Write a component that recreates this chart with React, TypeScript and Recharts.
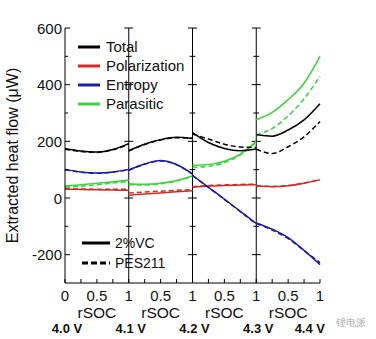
import React from 'react'
import { LineChart, Line, XAxis, YAxis, ReferenceLine } from 'recharts'

// rSOC sample points inside each voltage window
const rsoc = [0, 0.25, 0.5, 0.75, 1]
const voltages = ['4.0 V', '4.1 V', '4.2 V', '4.3 V', '4.4 V']

// one inner array per voltage window (4.0-4.1, 4.1-4.2, 4.2-4.3, 4.3-4.4)
const totalVC = [
  [175, 166, 162, 171, 192],
  [168, 190, 206, 214, 210],
  [231, 196, 175, 167, 173],
  [223, 218, 240, 276, 333],
]
const totalPES = [
  [172, 164, 161, 170, 190],
  [166, 189, 205, 213, 212],
  [226, 208, 190, 180, 178],
  [172, 157, 181, 216, 270],
]
const polVC = [
  [31, 30, 29, 28, 27],
  [10, 14, 18, 22, 26],
  [38, 42, 44, 46, 47],
  [42, 40, 43, 52, 64],
]
const polPES = [
  [32, 32, 31, 31, 31],
  [18, 21, 24, 27, 30],
  [40, 44, 46, 48, 49],
  [43, 41, 44, 53, 65],
]
const entVC = [
  [101, 92, 88, 92, 101],
  [99, 120, 132, 118, 85],
  [80, 38, -4, -47, -90],
  [-88, -110, -140, -185, -235],
]
const entPES = [
  [100, 91, 87, 91, 100],
  [98, 119, 131, 117, 84],
  [79, 37, -5, -48, -92],
  [-90, -113, -143, -186, -228],
]
const parVC = [
  [42, 47, 52, 57, 63],
  [50, 48, 52, 62, 78],
  [115, 118, 130, 155, 200],
  [276, 302, 347, 405, 500],
]
const parPES = [
  [38, 42, 47, 53, 58],
  [47, 46, 50, 60, 76],
  [108, 112, 125, 152, 197],
  [223, 245, 290, 350, 430],
]

const yTicks = [-200, -100, 0, 100, 200, 300, 400, 500, 600]
const xTicks = [0, 0.25, 0.5, 0.75, 1, 1.25, 1.5, 1.75, 2, 2.25, 2.5, 2.75, 3, 3.25, 3.5, 3.75, 4]
const dividers = [1, 2, 3]

const FONT = '"Liberation Sans", Arial, Helvetica, sans-serif'
const BLACK = '#000'
const RED = '#d22a26'
const BLUE = '#1c1ca8'
const GREEN = '#3fd43f'

// build rows, with an empty row between windows so the lines break
const data: any[] = []
totalVC.forEach((_, p) => {
  rsoc.forEach((r, i) => {
    data.push({
      x: p + r,
      totalVC: totalVC[p][i],
      totalPES: totalPES[p][i],
      polVC: polVC[p][i],
      polPES: polPES[p][i],
      entVC: entVC[p][i],
      entPES: entPES[p][i],
      parVC: parVC[p][i],
      parPES: parPES[p][i],
    })
  })
  if (p < totalVC.length - 1) data.push({ x: p + 1 })
})

const YTickLeft = (props: any) => {
  const { x, y, payload } = props
  const major = payload.value % 200 === 0
  return (
    <g>
      <line x1={x} x2={x + (major ? 5 : 3)} y1={y} y2={y} stroke={BLACK} />
      {major && (
        <text x={x - 3} y={y} textAnchor="end" dominantBaseline="central" fontSize={15} fontFamily={FONT} fill="#111">
          {payload.value}
        </text>
      )}
    </g>
  )
}

const YTickRight = (props: any) => {
  const { x, y, payload } = props
  const major = payload.value % 200 === 0
  return <line x1={x} x2={x - (major ? 5 : 3)} y1={y} y2={y} stroke={BLACK} />
}

const XTickTop = (props: any) => {
  const { x, y } = props
  return <line x1={x} x2={x} y1={y} y2={y + 4} stroke={BLACK} />
}

const XTickBottom = (props: any) => {
  const { x, y, payload } = props
  const v: number = payload.value
  const frac = v % 1
  const showNum = frac === 0 || frac === 0.5
  const label = v === 0 ? '0' : frac === 0 ? '1' : '0.5'
  const vi = Math.round(v)
  const last = vi === voltages.length - 1
  return (
    <g>
      <line x1={x} x2={x} y1={y} y2={y - 4} stroke={BLACK} />
      {showNum && (
        <text x={x} y={y + 12} textAnchor="middle" dominantBaseline="central" fontSize={15} fontFamily={FONT} fill="#111">
          {label}
        </text>
      )}
      {frac === 0.5 && (
        <text x={x} y={y + 29} textAnchor="middle" dominantBaseline="central" fontSize={15.5} fontFamily={FONT} fill="#111">
          rSOC
        </text>
      )}
      {frac === 0 && (
        <text
          x={last ? x + 5 : x + 2}
          y={y + 45}
          textAnchor={last ? 'end' : 'middle'}
          dominantBaseline="central"
          fontSize={13}
          fontWeight="bold"
          fontFamily={FONT}
          fill="#111"
        >
          {voltages[vi]}
        </text>
      )}
    </g>
  )
}

const legendMain = [
  { name: 'Total', color: BLACK },
  { name: 'Polarization', color: RED },
  { name: 'Entropy', color: BLUE },
  { name: 'Parasitic', color: GREEN },
]
const legendStyle = [
  { name: '2%VC', dash: '' },
  { name: 'PES211', dash: '6 3' },
]

const App: React.FC = () => {
  return (
    <div style={{ position: 'absolute', left: 0, top: 0, width: 376, height: 339, background: '#fff', fontFamily: FONT }}>
      <LineChart width={376} height={339} data={data} margin={{ top: 28, right: 56, bottom: 0, left: 0 }}>
        <XAxis
          dataKey="x"
          type="number"
          domain={[0, 4]}
          ticks={xTicks}
          interval={0}
          height={56}
          tickSize={0}
          tickMargin={0}
          tickLine={false}
          axisLine={{ stroke: BLACK }}
          tick={<XTickBottom />}
        />
        <XAxis
          xAxisId="top"
          dataKey="x"
          type="number"
          orientation="top"
          domain={[0, 4]}
          ticks={xTicks}
          interval={0}
          height={0}
          tickSize={0}
          tickMargin={0}
          tickLine={false}
          axisLine={{ stroke: BLACK }}
          tick={<XTickTop />}
        />
        <YAxis
          type="number"
          domain={[-300, 600]}
          ticks={yTicks}
          interval={0}
          width={65}
          tickSize={0}
          tickMargin={0}
          tickLine={false}
          axisLine={{ stroke: BLACK }}
          tick={<YTickLeft />}
          label={{
            value: 'Extracted heat flow (μW)',
            angle: -90,
            position: 'insideLeft',
            offset: 12,
            style: { textAnchor: 'middle', fontSize: 16, fontFamily: FONT, fill: '#111' },
          }}
        />
        <YAxis
          yAxisId="right"
          type="number"
          orientation="right"
          domain={[-300, 600]}
          ticks={yTicks}
          interval={0}
          width={0}
          tickSize={0}
          tickMargin={0}
          tickLine={false}
          axisLine={{ stroke: BLACK }}
          tick={<YTickRight />}
        />

        {dividers.map((d) => (
          <ReferenceLine key={'d' + d} x={d} stroke={BLACK} strokeWidth={1} />
        ))}
        {dividers.map((d) =>
          yTicks.map((t) => {
            const h = t % 200 === 0 ? 0.07 : 0.045
            return (
              <ReferenceLine
                key={`t${d}_${t}`}
                segment={[
                  { x: d - h, y: t },
                  { x: d + h, y: t },
                ]}
                stroke={BLACK}
                strokeWidth={1}
              />
            )
          })
        )}

        <Line type="monotone" dataKey="parPES" stroke={GREEN} strokeWidth={1.6} strokeDasharray="5 3" dot={false} isAnimationActive={false} />
        <Line type="monotone" dataKey="parVC" stroke={GREEN} strokeWidth={1.6} dot={false} isAnimationActive={false} />
        <Line type="monotone" dataKey="polPES" stroke={RED} strokeWidth={1.5} strokeDasharray="5 3" dot={false} isAnimationActive={false} />
        <Line type="monotone" dataKey="polVC" stroke={RED} strokeWidth={1.5} dot={false} isAnimationActive={false} />
        <Line type="monotone" dataKey="entPES" stroke={BLUE} strokeWidth={1.5} strokeDasharray="5 3" dot={false} isAnimationActive={false} />
        <Line type="monotone" dataKey="entVC" stroke={BLUE} strokeWidth={1.5} dot={false} isAnimationActive={false} />
        <Line type="monotone" dataKey="totalPES" stroke={BLACK} strokeWidth={1.5} strokeDasharray="5 3" dot={false} isAnimationActive={false} />
        <Line type="monotone" dataKey="totalVC" stroke={BLACK} strokeWidth={1.5} dot={false} isAnimationActive={false} />
      </LineChart>

      <div style={{ position: 'absolute', left: 78, top: 37 }}>
        {legendMain.map((l) => (
          <div key={l.name} style={{ display: 'flex', alignItems: 'center', height: 19 }}>
            <svg width={22} height={6}>
              <line x1={0} x2={22} y1={3} y2={3} stroke={l.color} strokeWidth={3} />
            </svg>
            <span style={{ marginLeft: 6, fontSize: 15, color: '#111' }}>{l.name}</span>
          </div>
        ))}
      </div>

      <div style={{ position: 'absolute', left: 82, top: 233 }}>
        {legendStyle.map((l) => (
          <div key={l.name} style={{ display: 'flex', alignItems: 'center', height: 20 }}>
            <svg width={28} height={6}>
              <line x1={0} x2={28} y1={3} y2={3} stroke={BLACK} strokeWidth={3} strokeDasharray={l.dash} />
            </svg>
            <span style={{ marginLeft: 5, fontSize: 14, color: '#111' }}>{l.name}</span>
          </div>
        ))}
      </div>

      <div style={{ position: 'absolute', left: 336, top: 316, fontSize: 10, color: '#aaa' }}>锂电派</div>
    </div>
  )
}

export default App
